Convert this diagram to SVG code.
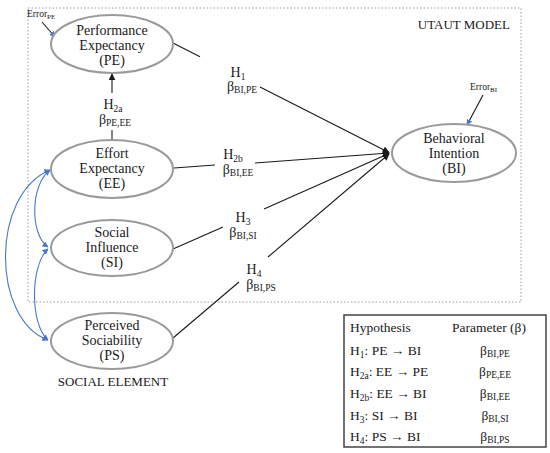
<svg xmlns="http://www.w3.org/2000/svg" width="550" height="453" viewBox="0 0 550 453" font-family="'Liberation Serif', 'DejaVu Serif', serif">
<defs>
<style>
text{font-family:'Liberation Serif','DejaVu Serif',serif;fill:#1a1a1a}
.n ellipse{fill:#fff;stroke:#9a9a9a;stroke-width:2}
.n text{font-size:14px;text-anchor:middle}
.lbl{font-size:14px;text-anchor:middle}
.sub{font-size:9.5px}
.con line{stroke:#1a1a1a;stroke-width:1.1}
.blue{stroke:#4a78c8;stroke-width:1.1;fill:none}
.err{font-size:9.5px}
.errs{font-size:7px}
.tbl{font-size:13.5px}
</style>
<marker id="ah" viewBox="0 0 10 10" refX="9" refY="5" markerWidth="7" markerHeight="7" markerUnits="userSpaceOnUse" orient="auto">
<path d="M0,0 L10,5 L0,10 z" fill="#1a1a1a"/>
</marker>
<marker id="bh" viewBox="0 0 10 10" refX="9" refY="5" markerWidth="6" markerHeight="6" markerUnits="userSpaceOnUse" orient="auto-start-reverse">
<path d="M0,0 L10,5 L0,10 z" fill="#4a78c8"/>
</marker>
</defs>
<rect width="550" height="453" fill="#fff"/>
<rect x="28" y="8" width="493" height="294" fill="none" stroke="#bdbdbd" stroke-width="1.5" stroke-dasharray="1.5,2"/>
<text x="510" y="29" font-size="13" text-anchor="end">UTAUT MODEL</text>
<text x="113" y="386" font-size="13" text-anchor="middle">SOCIAL ELEMENT</text>

<g id="connectors" class="con">
<line x1="173" y1="43" x2="200" y2="56.7"/>
<line x1="260" y1="87.1" x2="389" y2="152.5" marker-end="url(#ah)"/>
<line x1="174" y1="168" x2="215" y2="165"/>
<line x1="255" y1="163" x2="389" y2="153" marker-end="url(#ah)"/>
<line x1="173" y1="249" x2="223" y2="227"/>
<line x1="264" y1="209" x2="389" y2="153.5" marker-end="url(#ah)"/>
<line x1="173" y1="338" x2="239" y2="282"/>
<line x1="268" y1="257" x2="389" y2="154" marker-end="url(#ah)"/>
<line x1="112" y1="140" x2="112" y2="130"/>
<line x1="112" y1="93" x2="112" y2="74" marker-end="url(#ah)"/>
<path class="blue" d="M50,170 C30,185 30,235 48,247" marker-start="url(#bh)" marker-end="url(#bh)"/>
<path class="blue" d="M48,249 C30,265 30,325 48,340" marker-start="url(#bh)" marker-end="url(#bh)"/>
<path class="blue" d="M50,170 C-10,195 -8,320 48,340" marker-start="url(#bh)" marker-end="url(#bh)"/>
<line class="blue" x1="42" y1="22" x2="55" y2="37" marker-end="url(#bh)"/>
<line class="blue" x1="483" y1="95" x2="467" y2="125" marker-end="url(#bh)"/>
</g>

<g id="labels">
<text class="lbl" x="238" y="77">H<tspan class="sub" dy="3">1</tspan></text>
<text class="lbl" x="242" y="91">β<tspan class="sub" dy="2">BI,PE</tspan></text>
<text class="lbl" x="113" y="109">H<tspan class="sub" dy="3">2a</tspan></text>
<text class="lbl" x="115" y="124">β<tspan class="sub" dy="2">PE,EE</tspan></text>
<text class="lbl" x="233" y="159">H<tspan class="sub" dy="3">2b</tspan></text>
<text class="lbl" x="238" y="174">β<tspan class="sub" dy="2">BI,EE</tspan></text>
<text class="lbl" x="243" y="222">H<tspan class="sub" dy="3">3</tspan></text>
<text class="lbl" x="243" y="237">β<tspan class="sub" dy="2">BI,SI</tspan></text>
<text class="lbl" x="254" y="274">H<tspan class="sub" dy="3">4</tspan></text>
<text class="lbl" x="261" y="289">β<tspan class="sub" dy="2">BI,PS</tspan></text>
<text class="err" x="27" y="17">Error<tspan class="errs" dy="2">PE</tspan></text>
<text class="err" x="470" y="90">Error<tspan class="errs" dy="2">BI</tspan></text>
</g>

<g id="PE" class="n">
<ellipse cx="112" cy="44" rx="61" ry="29"/>
<text x="112" y="35">Performance</text>
<text x="112" y="50">Expectancy</text>
<text x="112" y="65">(PE)</text>
</g>
<g id="EE" class="n">
<ellipse cx="112" cy="169" rx="61" ry="29"/>
<text x="112" y="158">Effort</text>
<text x="112" y="173">Expectancy</text>
<text x="112" y="188">(EE)</text>
</g>
<g id="SI" class="n">
<ellipse cx="112" cy="248" rx="61" ry="28"/>
<text x="112" y="237">Social</text>
<text x="112" y="252">Influence</text>
<text x="112" y="267">(SI)</text>
</g>
<g id="PS" class="n">
<ellipse cx="112" cy="341" rx="61" ry="28"/>
<text x="112" y="330">Perceived</text>
<text x="112" y="345">Sociability</text>
<text x="112" y="360">(PS)</text>
</g>
<g id="BI" class="n">
<ellipse cx="454" cy="153" rx="62" ry="29"/>
<text x="454" y="143">Behavioral</text>
<text x="454" y="158">Intention</text>
<text x="454" y="173">(BI)</text>
</g>

<g id="table">
<rect x="344" y="315" width="202" height="132" fill="#fff" stroke="#444" stroke-width="1.5"/>
<text class="tbl" x="350" y="332">Hypothesis</text>
<text class="tbl" x="489" y="332" text-anchor="middle">Parameter (β)</text>
<text class="tbl" x="350" y="355">H<tspan class="sub" dy="3">1</tspan><tspan dy="-3">: PE → BI</tspan></text>
<text class="tbl" x="350" y="376">H<tspan class="sub" dy="3">2a</tspan><tspan dy="-3">: EE → PE</tspan></text>
<text class="tbl" x="350" y="398">H<tspan class="sub" dy="3">2b</tspan><tspan dy="-3">: EE → BI</tspan></text>
<text class="tbl" x="350" y="420">H<tspan class="sub" dy="3">3</tspan><tspan dy="-3">: SI → BI</tspan></text>
<text class="tbl" x="350" y="441">H<tspan class="sub" dy="3">4</tspan><tspan dy="-3">: PS → BI</tspan></text>
<text class="tbl" x="495" y="355" text-anchor="middle">β<tspan class="sub" dy="2">BI,PE</tspan></text>
<text class="tbl" x="495" y="376" text-anchor="middle">β<tspan class="sub" dy="2">PE,EE</tspan></text>
<text class="tbl" x="495" y="398" text-anchor="middle">β<tspan class="sub" dy="2">BI,EE</tspan></text>
<text class="tbl" x="495" y="420" text-anchor="middle">β<tspan class="sub" dy="2">BI,SI</tspan></text>
<text class="tbl" x="495" y="441" text-anchor="middle">β<tspan class="sub" dy="2">BI,PS</tspan></text>
</g>
</svg>
